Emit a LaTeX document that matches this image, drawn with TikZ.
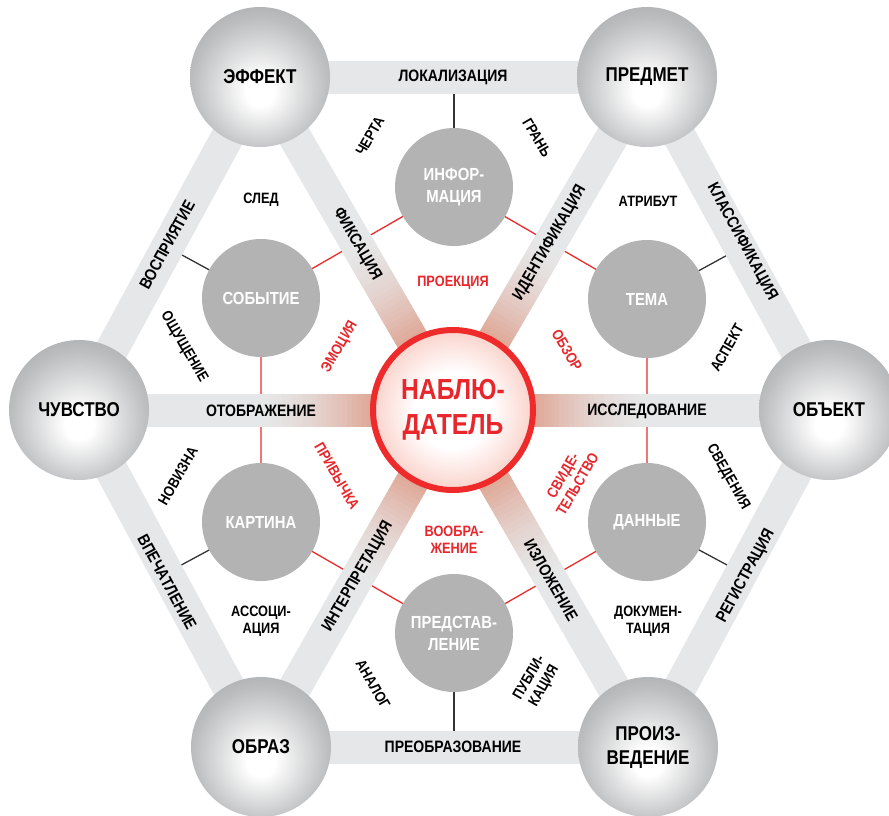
\documentclass[tikz,border=0pt]{standalone}
\usepackage{fontspec}
\setmainfont{Liberation Sans}[FakeStretch=0.85]
\usetikzlibrary{calc}
\definecolor{bandgray}{HTML}{E6E7E8}
\definecolor{salmon}{HTML}{DFA593}
\definecolor{innergray}{HTML}{B3B3B3}
\definecolor{sphgray}{HTML}{7C7D80}
\definecolor{sphmid}{HTML}{BDBEC0}
\definecolor{sphdark}{HTML}{96979A}
\definecolor{obsred}{HTML}{EE2A2A}
\definecolor{obsin}{HTML}{F0493F}
\definecolor{obspink}{HTML}{F8B4A8}
\definecolor{labred}{HTML}{E8262B}
\definecolor{linegray}{HTML}{333333}
\pgfdeclareradialshading{outersph}{\pgfpoint{0bp}{-6bp}}{color(0bp)=(white); color(5bp)=(white); color(24bp)=(sphmid); color(40bp)=(sphdark); color(50bp)=(sphgray)}
\pgfdeclareradialshading{redsph}{\pgfpoint{0bp}{0bp}}{color(0bp)=(white); color(12bp)=(white); color(34bp)=(obspink); color(50bp)=(obsin)}
\pgfdeclarelayer{lines}
\pgfdeclarelayer{bands}
\pgfsetlayers{lines,bands,main}
\tikzset{
  outer/.style={circle, minimum size=140pt, inner sep=0pt, shading=outersph, align=center,
    font=\fontsize{20}{24}\selectfont\bfseries, text=black},
  inner/.style={circle, minimum size=118pt, inner sep=0pt, fill=innergray, text=white, align=center,
    font=\fontsize{17.5}{22}\selectfont\bfseries},
  obs/.style={circle, minimum size=160pt, inner sep=0pt, shading=redsph, draw=obsred, line width=6pt,
    text=labred, align=center, font=\fontsize{29}{35}\selectfont\bfseries},
  bandlbl/.style={font=\fontsize{16.5}{18}\selectfont\bfseries, text=black, inner sep=0pt},
  smalllbl/.style={font=\fontsize{15}{17}\selectfont\bfseries, text=black, inner sep=0pt, align=center},
  redlbl/.style={smalllbl, text=labred},
  band/.style={line width=33pt, draw=bandgray, line cap=butt},
  redline/.style={draw=obsred, line width=1.3pt},
  blackline/.style={draw=linegray, line width=1.3pt}
}
\begin{document}
\begin{tikzpicture}[x=1pt, y=-1pt]
\useasboundingbox (0,0) rectangle (889,815);
% outer spheres
\node[outer] (E)  at (260,77)  {ЭФФЕКТ};
\node[outer] (P)  at (647,77)  {ПРЕДМЕТ};
\node[outer] (Ch) at (79,410)  {ЧУВСТВО};
\node[outer] (O)  at (829,410) {ОБЪЕКТ};
\node[outer] (Ob) at (261,747) {ОБРАЗ};
\node[outer] (Pr) at (648,747) {ПРОИЗ-\\ВЕДЕНИЕ};
% centre
\node[obs] (C) at (453,410) {НАБЛЮ-\\ДАТЕЛЬ};
% inner circles
\node[inner] (I)  at (454,187) {ИНФОР-\\МАЦИЯ};
\node[inner] (S)  at (261,298) {СОБЫТИЕ};
\node[inner] (T)  at (647,299) {ТЕМА};
\node[inner] (K)  at (261,522) {КАРТИНА};
\node[inner] (D)  at (647,522) {ДАННЫЕ};
\node[inner] (Pd) at (454,633) {ПРЕДСТАВ-\\ЛЕНИЕ};
% feet of the black connectors on the outer bands
\coordinate (fI)  at ($(E.center)!(I.center)!(P.center)$);
\coordinate (fS)  at ($(E.center)!(S.center)!(Ch.center)$);
\coordinate (fT)  at ($(P.center)!(T.center)!(O.center)$);
\coordinate (fK)  at ($(Ch.center)!(K.center)!(Ob.center)$);
\coordinate (fD)  at ($(O.center)!(D.center)!(Pr.center)$);
\coordinate (fPd) at ($(Ob.center)!(Pd.center)!(Pr.center)$);
\begin{pgfonlayer}{lines}
  \draw[redline] (I.center) -- (S.center) -- (K.center) -- (Pd.center) -- (D.center) -- (T.center) -- cycle;
  \draw[blackline] (I.center) -- (fI);
  \draw[blackline] (S.center) -- (fS);
  \draw[blackline] (T.center) -- (fT);
  \draw[blackline] (K.center) -- (fK);
  \draw[blackline] (D.center) -- (fD);
  \draw[blackline] (Pd.center) -- (fPd);
\end{pgfonlayer}
\begin{pgfonlayer}{bands}
  \draw[band] (E.center) -- (P.center);
  \draw[band] (P.center) -- (O.center);
  \draw[band] (O.center) -- (Pr.center);
  \draw[band] (Pr.center) -- (Ob.center);
  \draw[band] (Ob.center) -- (Ch.center);
  \draw[band] (Ch.center) -- (E.center);
  \foreach \v in {E,P,Ch,O,Ob,Pr} {
    \draw[band] (C.center) -- (\v.center);
    \foreach \i in {0,...,23} {
      \pgfmathsetmacro\pp{100*(1-\i/23)^1.6}
      \pgfmathsetmacro\ra{76+\i*5}
      \pgfmathsetmacro\rb{\ra+6}
      \draw[line width=33pt, line cap=butt, draw=salmon!\pp!bandgray]
        ($(C.center)!\ra pt!(\v.center)$) -- ($(C.center)!\rb pt!(\v.center)$);
    }
  }
\end{pgfonlayer}
% band labels
\node[bandlbl] (lLok) at (453,77) {ЛОКАЛИЗАЦИЯ};
\node[bandlbl, rotate=61.5] (lVos) at (167,245) {ВОСПРИЯТИЕ};
\node[bandlbl, rotate=-61.5] (lKla) at (742,242) {КЛАССИФИКАЦИЯ};
\node[bandlbl, rotate=-61.5] (lVpe) at (167,582) {ВПЕЧАТЛЕНИЕ};
\node[bandlbl, rotate=61.5] (lReg) at (746,576) {РЕГИСТРАЦИЯ};
\node[bandlbl] (lPre) at (453,747) {ПРЕОБРАЗОВАНИЕ};
\node[bandlbl, rotate=-60] (lFik) at (357,244) {ФИКСАЦИЯ};
\node[bandlbl, rotate=60] (lIde) at (550,243) {ИДЕНТИФИКАЦИЯ};
\node[bandlbl] (lOto) at (261,411) {ОТОБРАЖЕНИЕ};
\node[bandlbl] (lIss) at (647,411) {ИССЛЕДОВАНИЕ};
\node[bandlbl, rotate=60] (lInt) at (358,577) {ИНТЕРПРЕТАЦИЯ};
\node[bandlbl, rotate=-60] (lIzl) at (551,580) {ИЗЛОЖЕНИЕ};
% black labels
\node[smalllbl, rotate=60] (sChe) at (370,136) {ЧЕРТА};
\node[smalllbl, rotate=-60] (sGra) at (537,138) {ГРАНЬ};
\node[smalllbl] (sSle) at (261,200) {СЛЕД};
\node[smalllbl] (sAtr) at (648,201) {АТРИБУТ};
\node[smalllbl, rotate=-60] (sOsh) at (184,347) {ОЩУЩЕНИЕ};
\node[smalllbl, rotate=60] (sAsp) at (727,348) {АСПЕКТ};
\node[smalllbl, rotate=60] (sNov) at (178,476) {НОВИЗНА};
\node[smalllbl, rotate=-60] (sSve) at (728,477) {СВЕДЕНИЯ};
\node[smalllbl] (sAss) at (261,621) {АССОЦИ-\\АЦИЯ};
\node[smalllbl] (sDok) at (648,621) {ДОКУМЕН-\\ТАЦИЯ};
\node[smalllbl, rotate=-60] (sAna) at (373,684) {АНАЛОГ};
\node[smalllbl, rotate=60] (sPub) at (537,682) {ПУБЛИ-\\КАЦИЯ};
% red labels
\node[redlbl] (rPro) at (453,283) {ПРОЕКЦИЯ};
\node[redlbl, rotate=60] (rEmo) at (340,347) {ЭМОЦИЯ};
\node[redlbl, rotate=-60] (rObz) at (567,350) {ОБЗОР};
\node[redlbl, rotate=-60] (rPri) at (337,476) {ПРИВЫЧКА};
\node[redlbl, rotate=60] (rSvi) at (570,480) {СВИДЕ-\\ТЕЛЬСТВО};
\node[redlbl] (rVoo) at (454,540) {ВООБРА-\\ЖЕНИЕ};
\end{tikzpicture}
\end{document}
